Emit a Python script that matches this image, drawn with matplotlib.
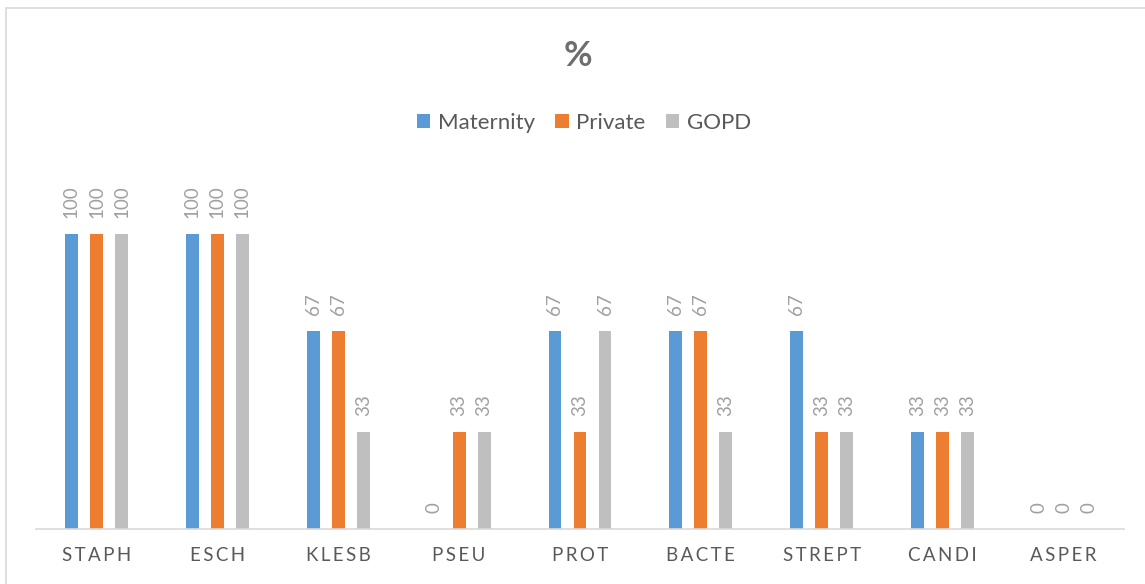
import matplotlib
matplotlib.use("Agg")
import matplotlib.pyplot as plt
import numpy as np
from matplotlib.patches import Rectangle

categories = ["STAPH", "ESCH", "KLESB", "PSEU", "PROT", "BACTE", "STREPT", "CANDI", "ASPER"]
maternity = [100, 100, 67, 0, 67, 67, 67, 33, 0]
private = [100, 100, 67, 33, 33, 67, 33, 33, 0]
gopd = [100, 100, 33, 33, 67, 33, 33, 33, 0]
series_names = ["Maternity", "Private", "GOPD"]
colors = ["#5B9BD5", "#ED7D31", "#BFBFBF"]

W, H = 1145, 584
fig = plt.figure(figsize=(W / 100, H / 100), dpi=100)
fig.patch.set_facecolor("white")
font = ["Lato", "DejaVu Sans"]

# chart border
fig.add_artist(Rectangle((6 / W, -0.1), 1.2, 1 - 8 / H + 0.1, transform=fig.transFigure,
                         fill=False, edgecolor="#D9D9D9", linewidth=1.2))

ax = fig.add_axes([36 / W, 1 - 529 / H, (1124 - 36) / W, (529 - 175) / H])
x = np.arange(len(categories))
width = 0.107
step = 0.207
for i, (vals, name, c) in enumerate(zip([maternity, private, gopd], series_names, colors)):
    pos = x + (i - 1) * step
    ax.bar(pos, vals, width, color=c, label=name, zorder=2)
    for p, v in zip(pos, vals):
        ax.annotate(str(v), (p, v), xytext=(0, 11.5), textcoords="offset points",
                    rotation=90, ha="center", va="bottom", color="#A0A0A0",
                    fontsize=13.5, family=font)

ax.set_xlim(-0.5, len(categories) - 0.5)
ax.set_ylim(0, 120)
ax.set_yticks([])
for s in ["top", "left", "right"]:
    ax.spines[s].set_visible(False)
ax.spines["bottom"].set_color("#D9D9D9")
ax.spines["bottom"].set_linewidth(1.2)
ax.set_xticks(x)
ax.set_xticklabels(["\u2009".join(c) for c in categories], color="#595959",
                   fontsize=13.5, family=font)
ax.tick_params(axis="x", length=0, pad=13)

fig.text(578 / W, 1 - 56 / H, "%", ha="center", va="center", fontsize=25,
         fontweight="bold", color="#6E6E6E", family=font)

leg = fig.legend(loc="center", bbox_to_anchor=(584 / W, 1 - 123 / H), ncol=3,
                 frameon=False, handlelength=0.6, handleheight=0.6,
                 handletextpad=0.35, columnspacing=0.9, prop={"family": font, "size": 16})
for t in leg.get_texts():
    t.set_color("#595959")

fig.savefig("out.png", dpi=100)
